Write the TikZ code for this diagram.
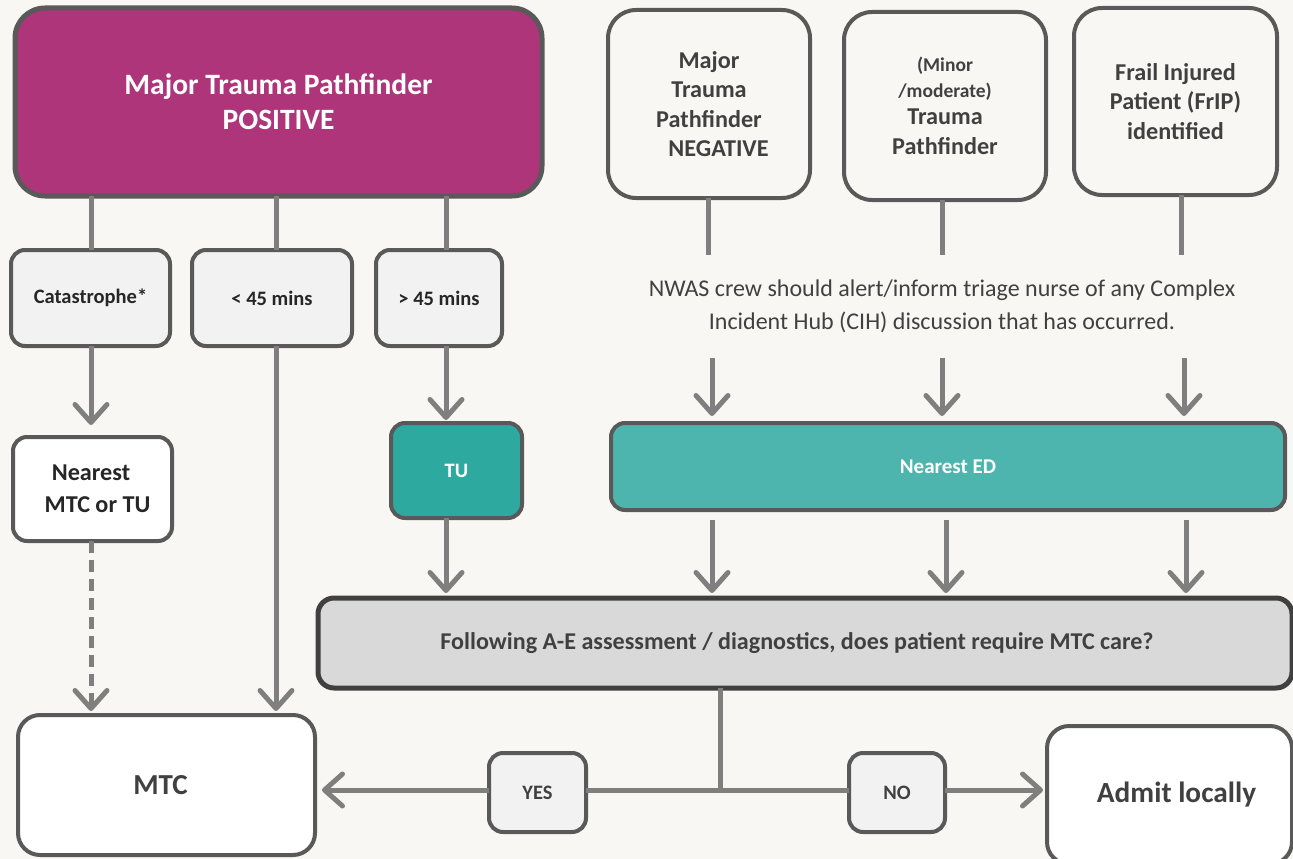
\documentclass[tikz,border=0pt]{standalone}
\usepackage{fontspec}
\setmainfont{Carlito}
\usetikzlibrary{arrows.meta}
\definecolor{bg}{HTML}{F8F7F3}
\definecolor{pinkfill}{HTML}{AE3579}
\definecolor{bordergray}{HTML}{595959}
\definecolor{conngray}{HTML}{7F7F7F}
\definecolor{lightbox}{HTML}{F2F2F2}
\definecolor{tufill}{HTML}{2EA99F}
\definecolor{edfill}{HTML}{4DB5AD}
\definecolor{follfill}{HTML}{D9D9D9}
\definecolor{follborder}{HTML}{404040}
\definecolor{txtdark}{HTML}{404040}
\definecolor{txtblack}{HTML}{262626}
\begin{document}
\begin{tikzpicture}[x=1pt,y=-1pt,
  box/.style={draw=bordergray, line width=4pt, rounded corners=14pt, inner sep=0pt, outer sep=0pt, align=center},
  smallbox/.style={box, fill=lightbox, text=txtblack, font=\fontsize{20.5}{24}\selectfont\bfseries},
  topbox/.style={box, rounded corners=28pt, fill=bg, text=txtdark, minimum width=202pt, minimum height=188pt, font=\fontsize{24.2}{29.5}\selectfont\bfseries},
  whitebox/.style={box, rounded corners=22pt, fill=white, text=txtdark},
  conn/.style={draw=conngray, line width=5pt},
  arr/.style={conn, -{Straight Barb[length=18pt,width=32pt,round]}},
  dasharr/.style={arr, dash pattern=on 12pt off 7pt}
]
\fill[bg] (0,0) rectangle (1293,859);
\useasboundingbox (0,0) rectangle (1293,859);

% Left side
\node[box, line width=5pt, rounded corners=30pt, fill=pinkfill, text=white, minimum width=527pt, minimum height=188pt,
  font=\fontsize{29.5}{35}\selectfont\bfseries] (pos) at (278.5,102) {Major Trauma Pathfinder\\POSITIVE};
\node[smallbox, minimum width=159pt, minimum height=96pt] (cat) at (90.5,298) {Catastrophe*};
\node[smallbox, minimum width=160pt, minimum height=96pt] (lt) at (272,298) {< 45 mins};
\node[smallbox, minimum width=126pt, minimum height=96pt] (gt) at (439,298) {> 45 mins};
\node[box, fill=white, text=txtblack, minimum width=159pt, minimum height=104pt,
  font=\fontsize{24.2}{32}\selectfont\bfseries] (near) at (92.5,489) {\hspace*{-3pt}Nearest\\\hspace*{10pt}MTC or TU};
\node[box, fill=tufill, text=white, minimum width=131pt, minimum height=95pt,
  font=\fontsize{20.5}{24}\selectfont\bfseries] (tu) at (456.5,470.5) {TU};

% Right top
\node[topbox] (neg) at (709,104) {Major\\Trauma\\Pathfinder\\\hspace*{19pt}NEGATIVE};
\node[topbox] (minor) at (945,106) {{\fontsize{19.5}{24}\selectfont (Minor}\\[-4pt]{\fontsize{19.5}{24}\selectfont /moderate)}\\[-2pt]Trauma\\Pathfinder};
\node[topbox, minimum width=203pt, minimum height=187pt] (frip) at (1175.5,101.5) {Frail Injured\\Patient (FrIP)\\identified};
\node[text=txtdark, align=center, inner sep=0pt, font=\fontsize{24}{33}\selectfont] (nwas) at (942,306.5)
  {NWAS crew should alert/inform triage nurse of any Complex\\Incident Hub (CIH) discussion that has occurred.};
\node[box, fill=edfill, text=white, minimum width=674pt, minimum height=87pt,
  font=\fontsize{21}{24}\selectfont\bfseries] (ed) at (948,466.5) {Nearest ED};

% Decision
\node[box, line width=5pt, draw=follborder, rounded corners=16pt, fill=follfill, text=txtdark, minimum width=974pt, minimum height=90pt,
  font=\fontsize{24.1}{28}\selectfont\bfseries] (foll) at (805,643) {\hspace*{-16pt}Following A-E assessment / diagnostics, does patient require MTC care?};

% Bottom
\node[whitebox, minimum width=297pt, minimum height=140pt, font=\fontsize{29}{33}\selectfont\bfseries] (mtc) at (166.5,785) {\hspace*{-12pt}MTC};
\node[whitebox, minimum width=245pt, minimum height=138pt, font=\fontsize{29.3}{33}\selectfont\bfseries] (admit) at (1169.5,795) {\hspace*{14pt}Admit locally};
\node[smallbox, text=txtdark, minimum width=97pt, minimum height=79pt] (yes) at (537.5,792.5) {YES};
\node[smallbox, text=txtdark, minimum width=96pt, minimum height=79pt] (no) at (897,792.5) {NO};

% Connectors left
\coordinate (c1) at (91,0);
\coordinate (c2) at (276,0);
\coordinate (c3) at (446,0);
\draw[conn] (pos.south -| c1) -- (cat.north -| c1);
\draw[conn] (pos.south -| c2) -- (lt.north -| c2);
\draw[conn] (pos.south -| c3) -- (gt.north -| c3);
\draw[arr] (cat.south -| c1) -- ([yshift=12pt]near.north -| c1);
\draw[dasharr] (near.south -| c1) -- ([yshift=4pt]mtc.north -| c1);
\draw[arr] (lt.south -| c2) -- ([yshift=4pt]mtc.north -| c2);
\draw[arr] (gt.south -| c3) -- ([yshift=3pt]tu.north -| c3);
\draw[arr] (tu.south -| c3) -- ([yshift=5pt]foll.north -| c3);

% Connectors right
\coordinate (r1) at (708,255);
\coordinate (r2) at (942,255);
\coordinate (r3) at (1181,255);
\draw[conn] (neg.south -| r1) -- (r1);
\draw[conn] (minor.south -| r2) -- (r2);
\draw[conn] (frip.south -| r3) -- (r3);
\coordinate (a1) at (712,358);
\coordinate (a2) at (942,358);
\coordinate (a3) at (1184,358);
\draw[arr] (a1) -- ([yshift=7pt]ed.north -| a1);
\draw[arr] (a2) -- ([yshift=7pt]ed.north -| a2);
\draw[arr] (a3) -- ([yshift=7pt]ed.north -| a3);
\coordinate (b1) at (712,520);
\coordinate (b2) at (946,520);
\coordinate (b3) at (1186,520);
\draw[arr] (b1) -- ([yshift=5pt]foll.north -| b1);
\draw[arr] (b2) -- ([yshift=5pt]foll.north -| b2);
\draw[arr] (b3) -- ([yshift=5pt]foll.north -| b3);

% Decision outputs
\coordinate (j) at (720,790);
\draw[conn] (foll.south -| j) -- (j);
\draw[conn] (j) -- (yes.east |- j);
\draw[arr] (yes.west |- j) -- ([xshift=7pt]mtc.east |- j);
\draw[conn] (j) -- (no.west |- j);
\draw[arr] (no.east |- j) -- ([xshift=-4pt]admit.west |- j);
\end{tikzpicture}
\end{document}
